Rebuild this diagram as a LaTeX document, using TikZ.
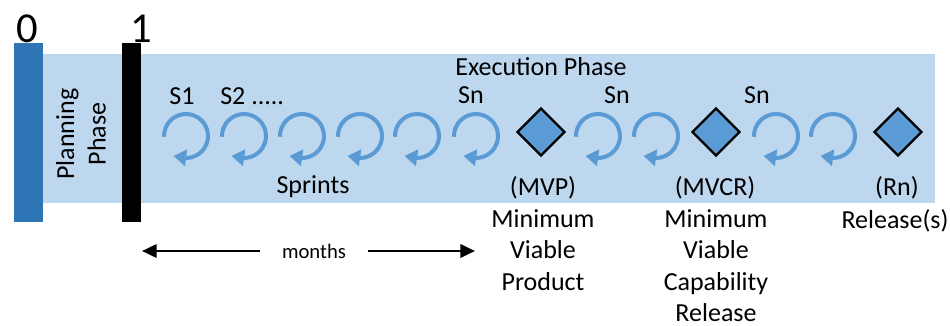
\documentclass[tikz,border=0pt]{standalone}
\usepackage{fontspec}
\setmainfont{Carlito}
\usepackage{xcolor}
\usetikzlibrary{arrows.meta,shapes.geometric}
\definecolor{bandblue}{HTML}{BDD7EE}
\definecolor{barblue}{HTML}{2E75B6}
\definecolor{sprintblue}{HTML}{5B9BD5}

\begin{document}
\begin{tikzpicture}[x=0.75pt,y=0.75pt,
    txt/.style={font=\fontsize{19.5}{23.6}\selectfont,inner sep=0pt,align=center},
    bignum/.style={font=\fontsize{32}{36}\selectfont,inner sep=0pt,anchor=base},
    sprintarrow/.style={color=sprintblue,line width=3pt,-{Triangle[length=9.5pt,width=12pt]}},
    release/.style={diamond,draw=black,fill=sprintblue,line width=1.8pt,
                    minimum width=36pt,minimum height=36pt,inner sep=0pt},
    span/.style={line width=2pt,-{Triangle[length=11pt,width=10pt]}}]
  \useasboundingbox (0,0) rectangle (950,-325);
  % phases
  \fill[bandblue] (43,-54) rectangle (935,-203);
  \fill[barblue] (14,-43) rectangle (43,-222);
  \fill[black] (122,-43) rectangle (141,-222);
  \node[bignum] (zero) at (27,-42) {0};
  \node[bignum] (one) at (141,-42) {1};
  \node[txt,rotate=90] (planning) at (81,-134) {Planning\\Phase};
  \node[txt,anchor=base] (execution) at (541,-75) {Execution Phase};
  % sprints
  \foreach \x/\name in {186/s1,244/s2,302/s3,360/s4,417/s5,476/s6,
                        598/s7,656/s8,776/s9,833/s10}
  {
    \coordinate (\name) at (\x,-136);
    \draw[sprintarrow] (\name) ++(182:22) arc[start angle=182,end angle=-86,radius=22]
      -- ++(-14,2);
  };
  \node[txt,anchor=base] (lblsone) at (182,-104) {S1};
  \node[txt,anchor=base west] (lblstwo) at (220,-104) {S2 .....};
  \foreach \x/\name in {471/sna,617/snb,757/snc}
    \node[txt,anchor=base] (\name) at (\x,-103) {Sn};
  \node[txt,anchor=base] (sprints) at (313,-193) {Sprints};
  % releases
  \node[release] (mvp) at (541,-132) {};
  \node[release] (mvcr) at (716,-132) {};
  \node[release] (rn) at (898,-132) {};
  \node[txt,anchor=base] (mvptag) at (543,-195) {(MVP)};
  \node[txt,anchor=base] (mvcrtag) at (715,-195) {(MVCR)};
  \node[txt,anchor=base] (rntag) at (897,-195) {(Rn)};
  \node[txt,anchor=north] (mvptext) at (543,-209) {Minimum\\Viable\\Product};
  \node[txt,anchor=north] (mvcrtext) at (716,-209) {Minimum\\Viable\\Capability\\Release};
  \node[txt,anchor=north] (rntext) at (895,-209) {Release(s)};
  % duration
  \node[font=\fontsize{15.5}{18}\selectfont,inner xsep=16pt,inner ysep=0pt] (months) at (314,-251) {months};
  \coordinate (mleft) at (142,-251);
  \coordinate (mright) at (475,-251);
  \draw[span] (months.west) -- (mleft);
  \draw[span] (months.east) -- (mright);
\end{tikzpicture}
\end{document}
